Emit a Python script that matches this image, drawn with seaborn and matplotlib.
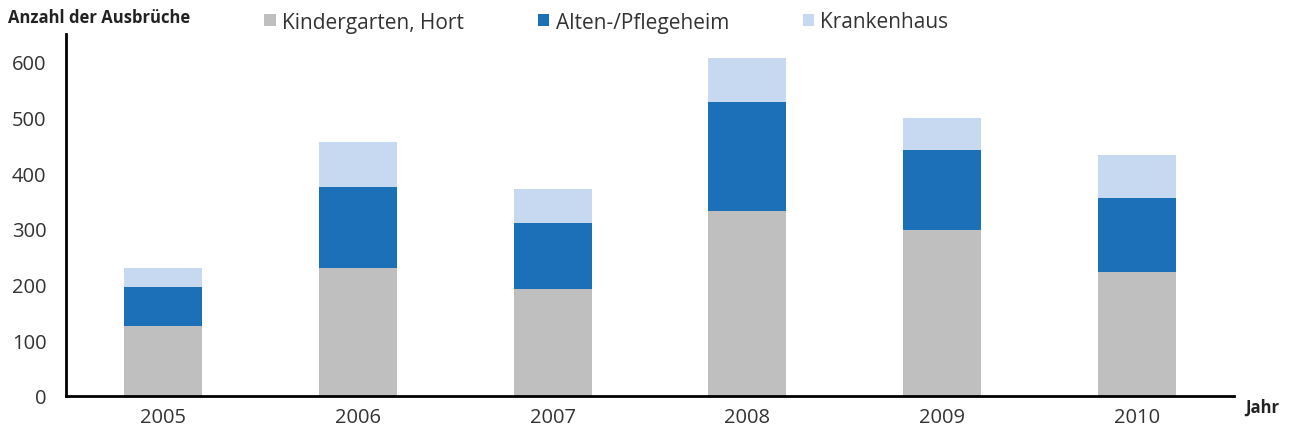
import matplotlib
matplotlib.use("Agg")
import matplotlib.pyplot as plt
import seaborn as sns
import pandas as pd
import numpy as np
from matplotlib.patches import Patch

years = ["2005", "2006", "2007", "2008", "2009", "2010"]
kindergarten = [126, 230, 192, 332, 298, 223]
pflegeheim = [69, 146, 119, 196, 144, 133]
krankenhaus = [34, 80, 60, 79, 58, 77]
series_names = ["Kindergarten, Hort", "Alten-/Pflegeheim", "Krankenhaus"]
yticks = [0, 100, 200, 300, 400, 500, 600]

colors = ["#BFBFBF", "#1B70B8", "#C6D9F0"]

sns.set_style("white")
plt.rcParams['font.family'] = ['Open Sans', 'DejaVu Sans']

df = pd.DataFrame({"Jahr": years, "k": kindergarten, "p": pflegeheim, "h": krankenhaus})
df["top_p"] = df["k"] + df["p"]
df["top_h"] = df["top_p"] + df["h"]

fig = plt.figure(figsize=(12.89, 4.35), dpi=100)
ax = fig.add_axes([66/1289, 1 - 397/435, (1234-66)/1289, (397-35)/435])

sns.barplot(data=df, x="Jahr", y="top_h", color=colors[2], width=0.4, ax=ax,
            saturation=1, edgecolor="none")
sns.barplot(data=df, x="Jahr", y="top_p", color=colors[1], width=0.4, ax=ax,
            saturation=1, edgecolor="none")
sns.barplot(data=df, x="Jahr", y="k", color=colors[0], width=0.4, ax=ax,
            saturation=1, edgecolor="none")

ax.set_xlim(-0.5, len(years) - 0.5)
ax.set_ylim(0, 650)
ax.set_yticks(yticks)
ax.set_yticklabels([str(t) for t in yticks], fontsize=14.5, color="#333333")
ax.set_xticks(np.arange(len(years)))
ax.set_xticklabels(years, fontsize=14.5, color="#333333")
ax.tick_params(axis="x", length=0, pad=8)
ax.set_xticks(np.arange(len(years) + 1) - 0.5, minor=True)
ax.tick_params(axis="x", which="minor", length=6, width=1.2, direction="out", color="#555555")
ax.tick_params(axis="y", length=6, width=1.2, direction="out", color="#333333", pad=8)
ax.set_xlabel("")
ax.set_ylabel("")
for s in ["top", "right"]:
    ax.spines[s].set_visible(False)
for s in ["left", "bottom"]:
    ax.spines[s].set_color("black")
    ax.spines[s].set_linewidth(2)

fig.text(8/1289, 1 - 18/435, "Anzahl der Ausbrüche", fontsize=12, fontweight="bold",
         color="#222222", va="center", ha="left")
fig.text(1245/1289, 1 - 408/435, "Jahr", fontsize=12, fontweight="bold",
         color="#222222", va="center", ha="left")

handles = [Patch(facecolor=c, edgecolor="none") for c in colors]
fig.legend(handles, series_names, loc="center left", bbox_to_anchor=(258/1289, 1 - 23/435),
           ncol=3, frameon=False, fontsize=15, handlelength=0.55, handleheight=0.55,
           handletextpad=0.3, columnspacing=3.55, labelcolor="#333333",
           borderaxespad=0, borderpad=0.3)

fig.savefig("out.png", dpi=100)
